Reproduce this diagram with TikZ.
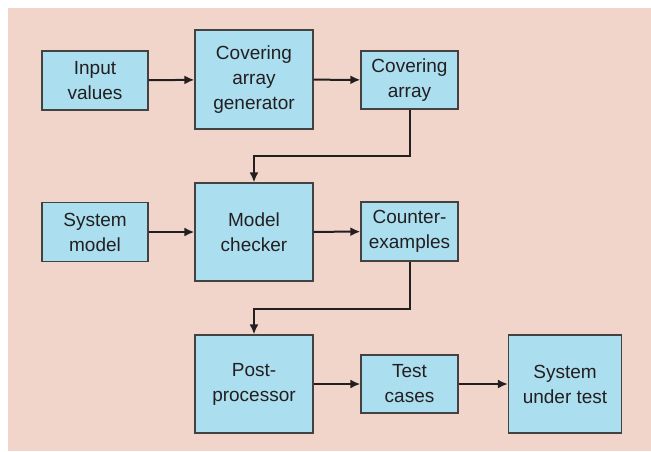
\documentclass[tikz,border=0pt]{standalone}
\usepackage{fontspec}
\setmainfont{Liberation Sans}
\usepackage{xcolor}
\usetikzlibrary{arrows.meta}
\definecolor{bgpink}{HTML}{F2D5CA}
\definecolor{boxblue}{HTML}{ABDEEF}
\definecolor{inkgray}{HTML}{231F20}
\tikzset{
	blk/.style={draw=inkgray!85, line width=1.2pt, fill=boxblue, align=center, text=inkgray,
		font=\fontsize{19}{25}\selectfont, inner sep=0pt},
	flow/.style={draw=inkgray, line width=2pt, -{Latex[length=10pt,width=9pt]}}
}
\begin{document}
\begin{tikzpicture}[x=1pt,y=-1pt]
		\useasboundingbox (0,0) rectangle (651,451);
		\fill [bgpink] (8,8) rectangle (651,451);
		\node [blk, minimum width=106pt, minimum height=59pt] (inval) at (95,80.5) {Input\\values};
		\node [blk, minimum width=118pt, minimum height=99pt] (cagen) at (254,79.5) {Covering\\array\\generator};
		\node [blk, minimum width=97pt, minimum height=58pt] (carr) at (409.5,80) {Covering\\array};
		\node [blk, minimum width=106pt, minimum height=59pt] (sysmod) at (95,232) {System\\model};
		\node [blk, minimum width=118pt, minimum height=98pt] (mcheck) at (254,232) {Model\\checker};
		\node [blk, minimum width=97pt, minimum height=59pt] (cex) at (409.5,231.5) {Counter-\\examples};
		\node [blk, minimum width=118pt, minimum height=98pt] (post) at (254,384) {Post-\\processor};
		\node [blk, minimum width=97pt, minimum height=58pt] (tcases) at (409.5,384) {Test\\cases};
		\node [blk, minimum width=113pt, minimum height=98pt] (sut) at (565,384) {System\\under test};
		\draw [flow] (inval) -- (cagen);
		\draw [flow] (cagen) -- (carr);
		\draw [flow] (carr.south) -- ++(0,46) -| (mcheck.north);
		\draw [flow] (sysmod) -- (mcheck);
		\draw [flow] (mcheck) -- (cex);
		\draw [flow] (cex.south) -- ++(0,47) -| (post.north);
		\draw [flow] (post) -- (tcases);
		\draw [flow] (tcases) -- (sut);
	\end{tikzpicture}
\end{document}
